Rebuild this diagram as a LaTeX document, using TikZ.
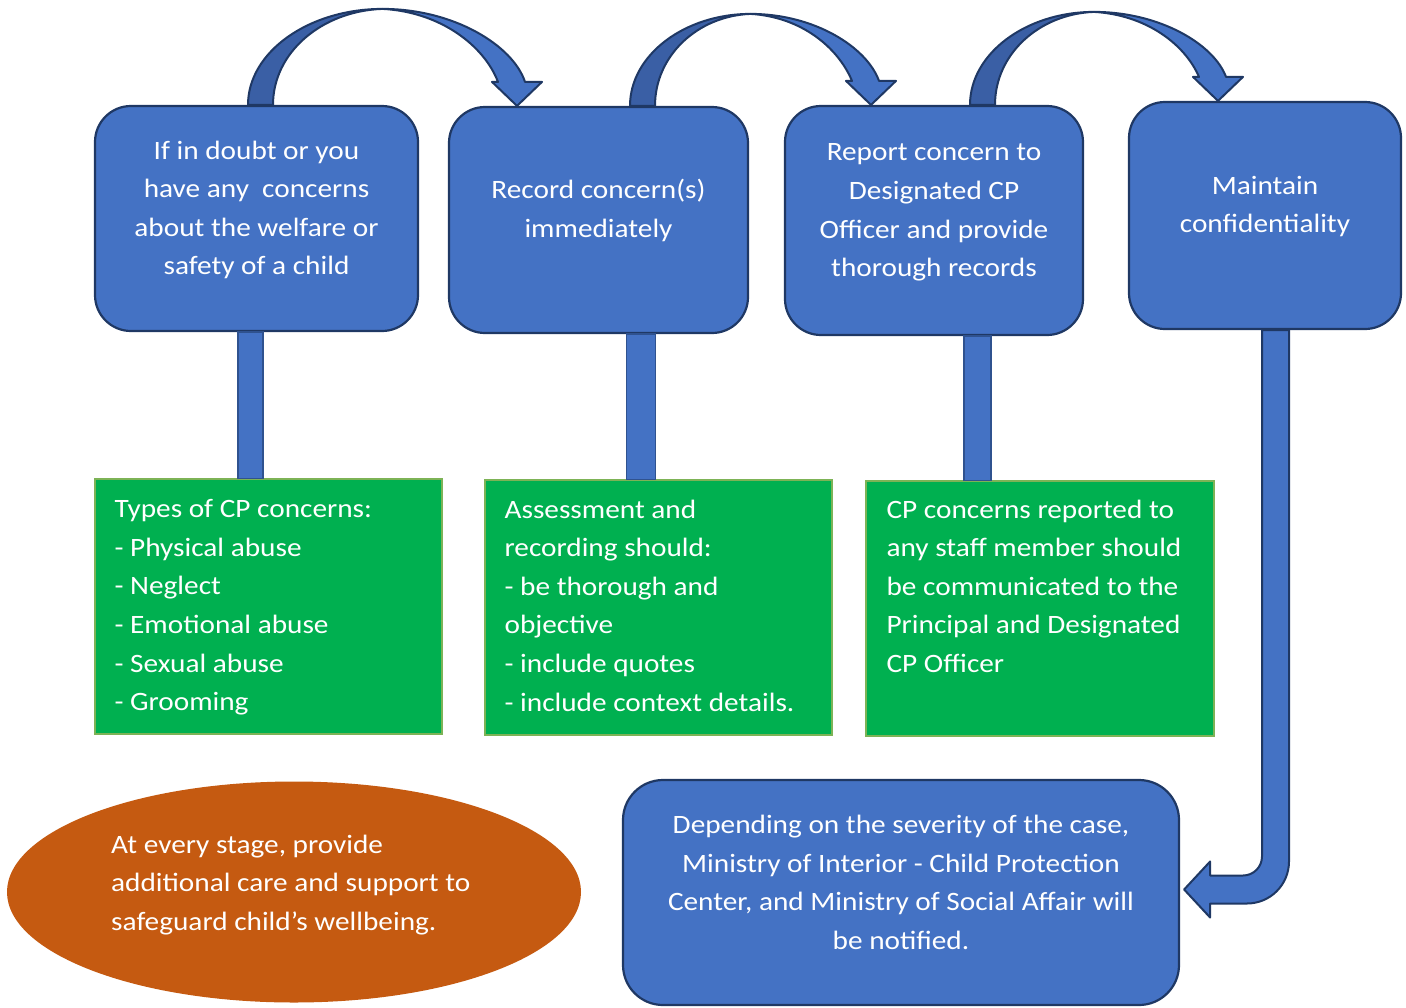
\documentclass[tikz,border=0pt]{standalone}
\usepackage{fontspec}
\setmainfont{Carlito}[FakeStretch=1.105]
\usetikzlibrary{calc,shapes.geometric}
\definecolor{boxblue}{HTML}{4472C4}
\definecolor{boxline}{HTML}{1F3864}
\definecolor{backblue}{HTML}{3A5FA5}
\definecolor{gfill}{HTML}{00B050}
\definecolor{gline}{HTML}{7DB356}
\definecolor{orng}{HTML}{C55A11}
\definecolor{connline}{HTML}{2F528F}
\newcommand{\curvarrow}[6]{%
 \coordinate (#6a) at ([xshift=#2pt]#1.north);
 \coordinate (#6b) at ([xshift=#2pt+25pt]#1.north);
 \coordinate (#6t) at ([xshift=#4pt]#3.north);
 \coordinate (#6m) at ($(#6a)!0.5!(#6t)$);
 \coordinate (#6p) at ($(#6a -| #6m)+(0,-#5)$);
 \coordinate (#6o) at ($(#6t)+(8,-24)$);
 \coordinate (#6i) at ($(#6t)+(-19,-24)$);
 \filldraw[cback] (#6a) .. controls ($(#6a)!0.55!(#6a |- #6p)$) and ($(#6p)!0.55!(#6a |- #6p)$) .. (#6p)
   .. controls ($(#6p)!0.55!(#6b |- #6p)+(0,2)$) and ($(#6b)!0.55!(#6b |- #6p)$) .. (#6b) -- cycle;
 \filldraw[cfront] (#6p) .. controls ($(#6p)!0.5!(#6o |- #6p)$) and ($(#6o)!0.5!(#6o |- #6p)+(-12,0)$) .. (#6o)
   -- ($(#6t)+(25,-24)$) -- (#6t) -- ($(#6t)+(-25,-24)$) -- (#6i)
   .. controls ($(#6i)!0.5!(#6i |- #6p)+(-14,0)$) and ($(#6p)!0.5!(#6i |- #6p)+(0,3)$) .. (#6p) -- cycle;
}
\begin{document}
\begin{tikzpicture}[x=1pt,y=-1pt,
  bluebox/.style={draw=boxline, line width=2.2pt, fill=boxblue, rounded corners=36pt, inner sep=0pt},
  greenbox/.style={draw=gline, line width=1.2pt, fill=gfill, inner sep=0pt},
  txt/.style={text=white, font=\fontsize{26.5}{38.6}\selectfont, inner sep=0pt},
  ctxt/.style={txt, align=center},
  ltxt/.style={txt, align=left, anchor=north west},
  conn/.style={draw=connline, line width=1.5pt, fill=boxblue},
  cfront/.style={draw=boxline, line width=2pt, fill=boxblue, line join=round},
  cback/.style={draw=boxline, line width=2pt, fill=backblue, line join=round},
  bent/.style={draw=boxline, line width=2pt, fill=boxblue, line join=round}]
\useasboundingbox (0,0) rectangle (1406,1007);

% green boxes
\node[greenbox, minimum width=347pt, minimum height=255pt] (g1) at (268.5,606.5) {};
\node[greenbox, minimum width=347pt, minimum height=255pt] (g2) at (658.5,607.5) {};
\node[greenbox, minimum width=348pt, minimum height=255pt] (g3) at (1040,608.5) {};

% blue boxes
\node[bluebox, minimum width=323pt, minimum height=225pt] (b1) at (256.5,218.5) {};
\node[bluebox, minimum width=299pt, minimum height=226pt] (b2) at (598.5,220) {};
\node[bluebox, minimum width=298pt, minimum height=229pt] (b3) at (934,220.5) {};
\node[bluebox, minimum width=272pt, minimum height=227pt] (b4) at (1265,215.5) {};
\node[bluebox, minimum width=556pt, minimum height=225pt, rounded corners=40pt] (b5) at (901,892.5) {};

% ellipse
\node[ellipse, fill=orng, minimum width=574pt, minimum height=221pt, inner sep=0pt] (ell) at (294,892) {};

% vertical connectors
\draw[conn] ([xshift=-18.5pt]b1.south) rectangle ([xshift=6.5pt]b1.south |- g1.north);
\draw[conn] ([xshift=28pt]b2.south) rectangle ([xshift=57pt]b2.south |- g2.north);
\draw[conn] ([xshift=30pt]b3.south) rectangle ([xshift=57pt]b3.south |- g3.north);

% curved arrows
\curvarrow{b1}{-8.5}{b2}{-81.5}{96}{ca}
\curvarrow{b2}{31.5}{b3}{-63}{92}{cb}
\curvarrow{b3}{36}{b4}{-47}{93}{cc}

% bent arrow
\coordinate (v1) at ([xshift=-3pt]b4.south);
\coordinate (v2) at ([xshift=24pt]b4.south);
\coordinate (tip) at ([xshift=4pt,yshift=3pt]b5.east);
\draw[bent] (v1) -- ($(v1 |- tip)+(0,-33)$) arc[start angle=0,end angle=-90,radius=19pt]
  -- ($(tip)+(26,-14)$) -- ($(tip)+(26,-28)$) -- (tip) -- ($(tip)+(26,28)$) -- ($(tip)+(26,14)$)
  -- ($(v2 |- tip)+(-42,14)$) arc[start angle=-90,end angle=0,radius=42pt] -- (v2) -- cycle;

% texts
\node[ctxt] (t1) at ([yshift=8.5pt]b1.center) {If in doubt or you\\have any\ \ concerns\\about the welfare or\\safety of a child};
\node[ctxt] (t2) at ([yshift=9.5pt]b2.center) {Record concern(s)\\immediately};
\node[ctxt] (t3) at ([yshift=8pt]b3.center) {Report concern to\\Designated CP\\Officer and provide\\thorough records};
\node[ctxt] (t4) at ([yshift=9pt]b4.center) {Maintain\\confidentiality};
\node[ctxt] (t5) at ([yshift=10pt]b5.center) {Depending on the severity of the case,\\Ministry of Interior - Child Protection\\Center, and Ministry of Social Affair will\\be notified.};

\node[ltxt] (u1) at ($(g1.north west)+(20,21)$) {Types of CP concerns:\\- Physical abuse\\- Neglect\\- Emotional abuse\\- Sexual abuse\\- Grooming};
\node[ltxt] (u2) at ($(g2.north west)+(20,20)$) {Assessment and\\recording should:\\- be thorough and\\objective\\- include quotes\\- include context details.};
\node[ltxt] (u3) at ($(g3.north west)+(21,19)$) {CP concerns reported to\\any staff member should\\be communicated to the\\Principal and Designated\\CP Officer};

\node[txt, align=left, anchor=west] (e1) at ($(ell.center)+(-183,-7)$) {At every stage, provide\\additional care and support to\\safeguard child’s wellbeing.};
\end{tikzpicture}
\end{document}
